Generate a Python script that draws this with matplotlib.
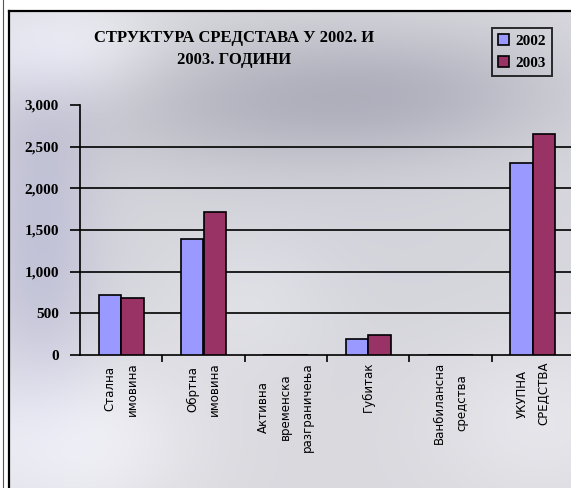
import numpy as np
import matplotlib
matplotlib.use("Agg")
import matplotlib.pyplot as plt
from matplotlib.lines import Line2D
from matplotlib.ticker import FuncFormatter, FixedLocator

# ---- data ----
categories = ["Стална\nимовина", "Обртна\nимовина",
              "Активна\nвременска\nразграничења", "Губитак",
              "Ванбилансна\nсредства", "УКУПНА\nСРЕДСТВА"]
values_2002 = [720, 1390, 0, 190, 0, 2300]
values_2003 = [690, 1720, 0, 240, 0, 2650]
series_names = ["2002", "2003"]
title_text = "СТРУКТУРА СРЕДСТАВА У 2002. И\n2003. ГОДИНИ"
y_ticks = [0, 500, 1000, 1500, 2000, 2500, 3000]

W, H = 571, 488
fig = plt.figure(figsize=(W / 100, H / 100), dpi=100, facecolor="white")

# ---- background gradient inside the chart frame ----
fx0, fy0 = 9, 11  # frame top-left in pixels
gw, gh = W - fx0, H - fy0
yy, xx = np.mgrid[0:gh, 0:gw]
xx = xx + fx0
yy = yy + fy0
img = np.ones((gh, gw, 3)) * np.array([0.85, 0.85, 0.87])
blobs = [
    (260, 100, 150, 50, (-0.12, -0.12, -0.10)),
    (430, 90, 110, 45, (-0.08, -0.08, -0.06)),
    (60, 50, 70, 40, (0.11, 0.11, 0.11)),
    (40, 240, 40, 130, (-0.08, -0.08, -0.02)),
    (60, 440, 90, 60, (0.10, 0.10, 0.10)),
    (330, 250, 200, 80, (-0.02, -0.02, -0.01)),
    (540, 420, 80, 60, (0.05, 0.05, 0.05)),
    (250, 300, 60, 50, (0.04, 0.04, 0.04)),
]
for cx, cy, sx, sy, d in blobs:
    g = np.exp(-(((xx - cx) / sx) ** 2 + ((yy - cy) / sy) ** 2) / 2)
    img += g[..., None] * np.array(d)
img = np.clip(img, 0, 1)
bg = fig.add_axes([fx0 / W, 0, gw / W, gh / H], zorder=0)
bg.imshow(img, aspect="auto", extent=(0, 1, 0, 1), origin="upper")
bg.set_xlim(0, 1)
bg.set_ylim(0, 1)
bg.axis("off")

# frame lines
fig.add_artist(Line2D([fx0 / W, fx0 / W], [0, 1 - fy0 / H], color="black", lw=1.6,
                      transform=fig.transFigure, zorder=5))
fig.add_artist(Line2D([fx0 / W, 1], [1 - fy0 / H, 1 - fy0 / H], color="black", lw=1.6,
                      transform=fig.transFigure, zorder=5))
fig.add_artist(Line2D([3 / W, 3 / W], [0, 1], color="#555555", lw=0.8,
                      transform=fig.transFigure, zorder=5))

# ---- main axes ----
px_left, px_right, px_top, px_bot = 80, 574, 105, 355
ax = fig.add_axes([px_left / W, 1 - px_bot / H, (px_right - px_left) / W,
                   (px_bot - px_top) / H], zorder=2)
ax.patch.set_alpha(0)

x = np.arange(len(categories))
bw = 0.273
ax.bar(x - bw / 2, values_2002, bw, color="#9999ff", edgecolor="black",
       linewidth=1.2, label=series_names[0], zorder=3)
ax.bar(x + bw / 2, values_2003, bw, color="#993366", edgecolor="black",
       linewidth=1.2, label=series_names[1], zorder=3)

ax.set_xlim(-0.5, len(categories) - 0.5)
ax.set_ylim(0, 3000)
ax.set_yticks(y_ticks)
ax.yaxis.set_major_formatter(FuncFormatter(lambda v, p: f"{int(v):,}"))
ax.yaxis.grid(True, color="black", linewidth=1.2, zorder=1)
ax.set_axisbelow(True)
glines = ax.get_ygridlines()
glines[0].set_visible(False)
glines[-1].set_visible(False)

for s in ["top", "right"]:
    ax.spines[s].set_visible(False)
ax.spines["left"].set_linewidth(1.2)
ax.spines["bottom"].set_linewidth(1.2)

ax.tick_params(axis="y", direction="out", length=7, width=1.2, pad=8,
               labelsize=11)
for lab in ax.get_yticklabels():
    lab.set_fontfamily("Liberation Serif")
    lab.set_fontweight("bold")

ax.set_xticks(x)
ax.set_xticklabels(categories, rotation=90, fontsize=8.5, family="DejaVu Sans",
                   linespacing=1.9, va="top", ha="center")
ax.tick_params(axis="x", length=0, pad=5)
ax.xaxis.set_minor_locator(FixedLocator(np.arange(0.5, len(categories) - 0.4, 1)))
ax.tick_params(axis="x", which="minor", direction="out", length=5, width=1.2)

# ---- title ----
fig.text(234 / W, 1 - 49 / H, title_text, ha="center", va="center",
         family="Liberation Serif", fontweight="bold", fontsize=12,
         linespacing=1.45, zorder=6)

# ---- legend ----
leg = ax.legend(loc="upper left", bbox_to_anchor=(492 / W, 1 - 28 / H),
                bbox_transform=fig.transFigure, frameon=True, fancybox=False,
                edgecolor="black", facecolor="none", handlelength=0.7,
                handleheight=0.7, handletextpad=0.4, borderpad=0.4,
                labelspacing=0.55, borderaxespad=0,
                prop={"family": "Liberation Serif", "weight": "bold", "size": 11})
leg.get_frame().set_linewidth(1.4)

fig.savefig("out.png", dpi=100)
